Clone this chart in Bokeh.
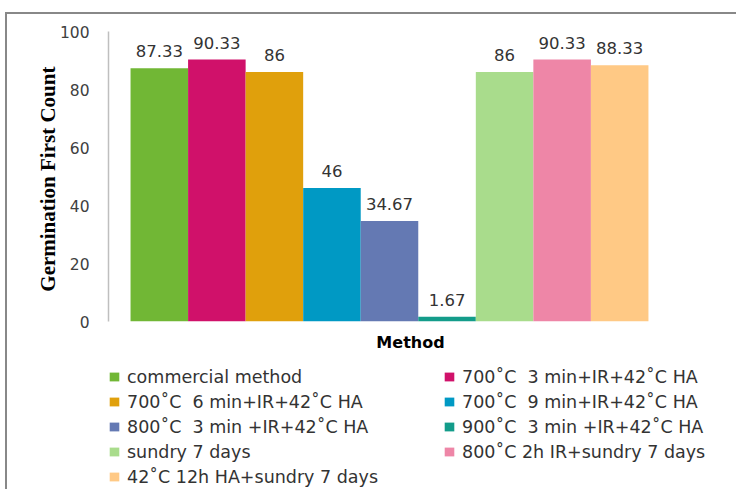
from bokeh.plotting import figure
from bokeh.layouts import column
from bokeh.models import ColumnDataSource, Range1d, FixedTicker, Legend, LegendItem
from bokeh.core.properties import value
from bokeh.embed import file_html
from bokeh.resources import INLINE

methods = [
    "commercial method",
    "700˚C  3 min+IR+42˚C HA",
    "700˚C  6 min+IR+42˚C HA",
    "700˚C  9 min+IR+42˚C HA",
    "800˚C  3 min +IR+42˚C HA",
    "900˚C  3 min +IR+42˚C HA",
    "sundry 7 days",
    "800˚C 2h IR+sundry 7 days",
    "42˚C 12h HA+sundry 7 days",
]
counts = [87.33, 90.33, 86, 46, 34.67, 1.67, 86, 90.33, 88.33]
labels = ["87.33", "90.33", "86", "46", "34.67", "1.67", "86", "90.33", "88.33"]
colors = ["#71B735", "#D0116A", "#E0A00C", "#0099C4", "#6479B3",
          "#139C8A", "#A9DC8C", "#EE86A7", "#FFC985"]
y_ticks = [0, 20, 40, 60, 80, 100]

source = ColumnDataSource(dict(
    x=[i + 0.5 for i in range(len(methods))],
    top=counts,
    label=labels,
    color=colors,
    name=methods,
))

# ---------------- chart ----------------
p = figure(width=729, height=340,
           x_range=Range1d(-0.383, 10.113),
           y_range=Range1d(0, 100),
           output_backend="svg", toolbar_location=None,
           min_border_left=101, min_border_right=24,
           min_border_top=17, min_border_bottom=32,
           background_fill_color="white", border_fill_color="white")
p.outline_line_color = None
p.xgrid.visible = False
p.ygrid.visible = False

bars = p.vbar(x="x", top="top", width=1.0, bottom=0, source=source,
              fill_color="color", line_color=None)

p.text(x="x", y="top", text="label", source=source,
       text_align="center", text_baseline="bottom", y_offset=-11,
       text_font=value("DejaVu Sans"), text_font_size="16.5px",
       text_color="#333333")

yax = p.yaxis[0]
yax.ticker = FixedTicker(ticks=y_ticks)
yax.major_tick_out = 0
yax.major_tick_in = 0
yax.minor_tick_out = 0
yax.minor_tick_in = 0
yax.major_label_standoff = 19
yax.major_label_text_font = "DejaVu Sans"
yax.major_label_text_font_size = "15.5px"
yax.major_label_text_color = "#404040"
yax.axis_line_color = "#BFBFBF"
yax.axis_line_width = 1.5
yax.axis_label = "Germination  First Count"
yax.axis_label_text_font = "Liberation Serif"
yax.axis_label_text_font_style = "bold"
yax.axis_label_text_font_size = "21px"
yax.axis_label_text_color = "#000000"
yax.axis_label_standoff = -3

xax = p.xaxis[0]
xax.ticker = FixedTicker(ticks=[])
xax.major_tick_out = 0
xax.major_tick_in = 0
xax.minor_tick_out = 0
xax.minor_tick_in = 0
xax.major_label_standoff = 0
xax.major_label_text_font_size = "0px"
xax.axis_line_color = None
xax.axis_label = "Method"
xax.axis_label_text_font = "DejaVu Sans"
xax.axis_label_text_font_style = "bold"
xax.axis_label_text_font_size = "16px"
xax.axis_label_text_color = "#000000"
xax.axis_label_standoff = 11

# ---------------- legend panel ----------------
q = figure(width=729, height=135,
           x_range=Range1d(100, 101), y_range=Range1d(100, 101),
           output_backend="svg", toolbar_location=None,
           x_axis_location=None, y_axis_location=None,
           min_border_left=101, min_border_right=24,
           min_border_top=0, min_border_bottom=0,
           background_fill_color="white", border_fill_color="white")
q.outline_line_color = None
q.xgrid.visible = False
q.ygrid.visible = False
lbars = q.vbar(x="x", top="top", width=1.0, bottom=0, source=source,
               fill_color="color", line_color=None)

left_idx = [0, 2, 4, 6, 8]
right_idx = [1, 3, 5, 7]

def make_legend(idx, loc):
    items = [LegendItem(label=methods[i], renderers=[lbars], index=i) for i in idx]
    lg = Legend(items=items, location=loc, orientation="vertical",
                glyph_width=12, glyph_height=11, label_standoff=7,
                label_height=25, spacing=0, padding=0, margin=0,
                border_line_color=None, background_fill_alpha=0,
                label_text_font="DejaVu Sans", label_text_font_size="17.5px",
                label_text_color="#333333")
    q.add_layout(lg, "center")

make_legend(left_idx, (0, 0))
make_legend(right_idx, (335, 25))

layout = column(p, q, spacing=0)
layout.styles = {"margin-left": "5px", "margin-top": "12px",
                 "border-left": "2px solid #888888", "border-top": "2px solid #888888"}

open("out.html", "w").write(file_html(layout, INLINE))
